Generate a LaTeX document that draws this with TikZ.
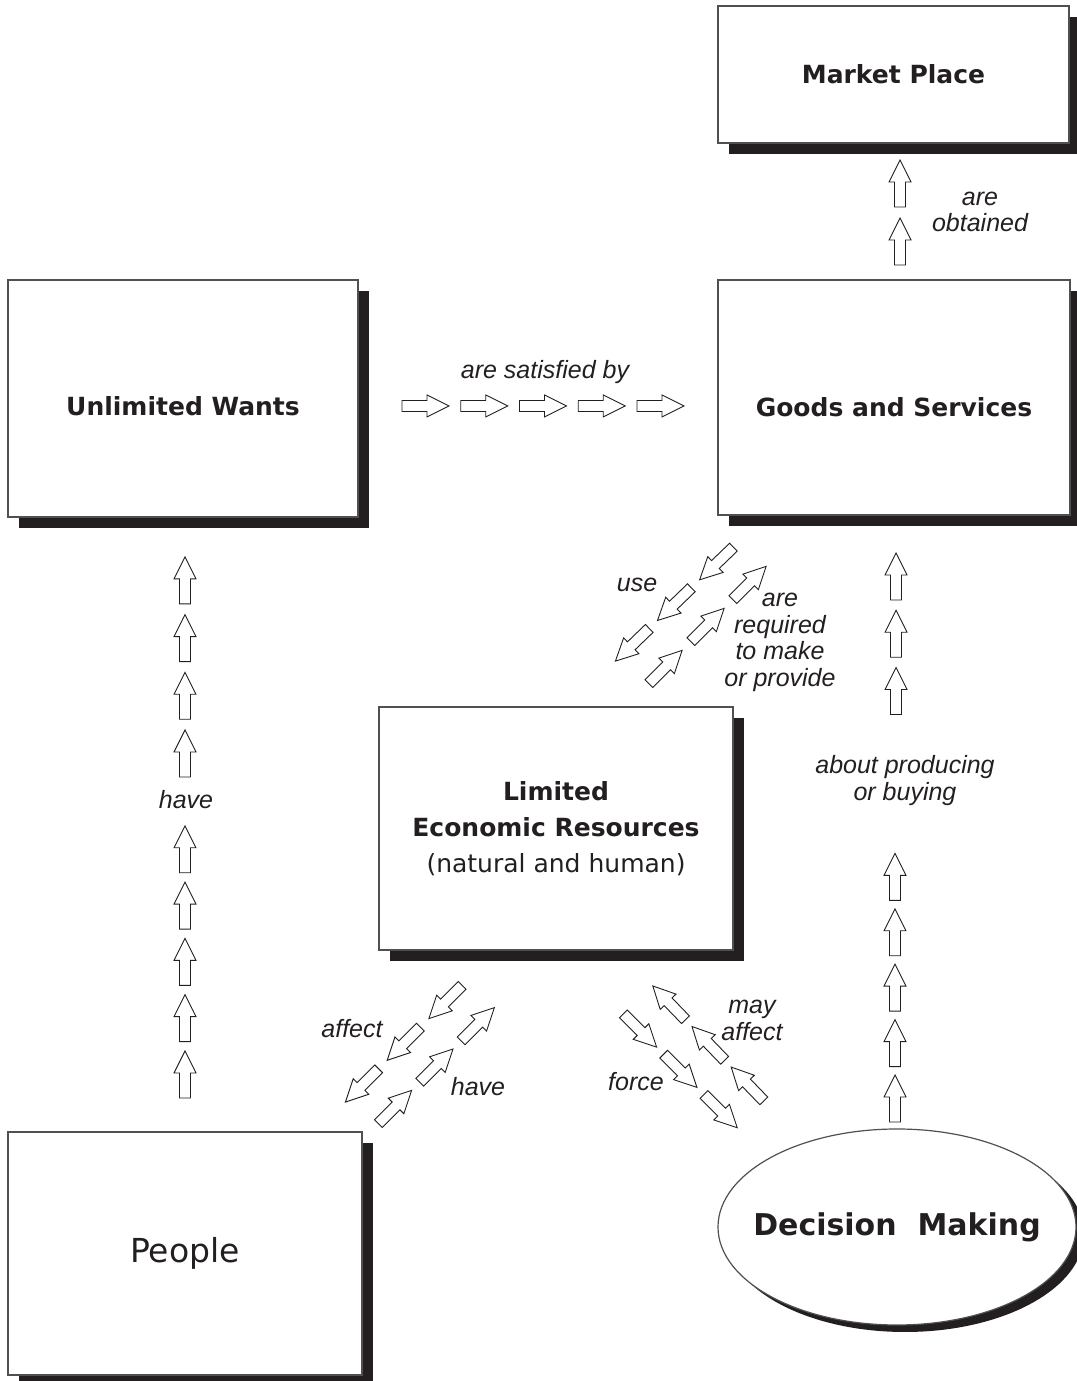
\documentclass[tikz,border=0pt]{standalone}
\usepackage{fontspec}
\setmainfont{Liberation Sans}
\newfontfamily\boxfont{DejaVu Sans}
\usetikzlibrary{shapes.geometric,shadows,calc}
\definecolor{colorline}  {RGB}{35 ,31 ,32 }
\definecolor{colorframe} {RGB}{80 ,80 ,80 }
\definecolor{colorshadow}{RGB}{35 ,31 ,32 }

\tikzset{
    arrowline/.style={draw=colorline,line width=0.9pt,fill=white,line join=miter},
    blockarrow/.pic={
        \draw[arrowline] (-23.5,-5.5) -- (1.5,-5.5) -- (1.5,-11) -- (23.5,0)
            -- (1.5,11) -- (1.5,5.5) -- (-23.5,5.5) -- cycle;
    },
}
% start, angle, count, pitch
\newcommand\arrowchain[4]{%
    \foreach \k in {1,...,#3}
        \pic[rotate=#2] at ($(#1)+(#2:{(\k-1)*#4})$) {blockarrow};
}

\begin{document}
\begin{tikzpicture}[
    x=1pt, y=1pt,
    frame/.style={draw=colorframe,line width=1.2pt,fill=white,inner sep=0pt,align=center,
        text=colorline,font={\boxfont\fontsize{25}{36}\selectfont\bfseries}},
    box/.style={frame,drop shadow={shadow xshift=11pt,shadow yshift=-11pt,fill=colorshadow,opacity=1}},
    oval/.style={frame,ellipse,drop shadow={shadow xshift=8pt,shadow yshift=-7pt,fill=colorshadow,opacity=1}},
    verb/.style={text=colorline,font={\itshape\fontsize{25}{26.5}\selectfont},align=center,inner sep=1pt},
]
    \useasboundingbox (0,0) rectangle (1076,1381);

    \node[box,minimum width=351pt,minimum height=137pt] (market) at (893.5,1306.5) {Market Place};
    \node[box,minimum width=350pt,minimum height=237pt,text height=34pt,text depth=0pt]
        (wants) at (183,982.5) {Unlimited Wants};
    \node[box,minimum width=352pt,minimum height=235pt,text height=38pt,text depth=0pt]
        (goods) at (894,983.5) {Goods and Services};
    \node[box,minimum width=354pt,minimum height=243pt] (resources) at (556,552.5)
        {Limited\\Economic Resources\\{\mdseries (natural and human)}};
    \node[box,minimum width=354pt,minimum height=243pt,font={\boxfont\fontsize{33}{36}\selectfont}]
        (people) at (185,127.5) {People};
    \node[oval,minimum width=358pt,minimum height=196pt,font={\boxfont\fontsize{30}{36}\selectfont\bfseries}]
        (decision) at (897,154) {\makebox[0pt]{Decision\ \ Making}};

    \node[verb] (obtained) at (980,1169) {are\\obtained};
    \node[verb] (satisfied) at (545,1009) {are satisfied by};
    \node[verb] (use) at (637,796) {use};
    \node[verb] (required) at (780,738.5) {are\\required\\to make\\or provide};
    \node[verb] (producing) at (905,600.5) {about producing\\or buying};
    \node[verb] (havewants) at (186,581) {have};
    \node[verb] (affect) at (352,352) {affect};
    \node[verb] (haveres) at (478,294) {have};
    \node[verb] (force) at (636,299) {force};
    \node[verb] (mayaffect) at (752,360.5) {may\\affect};

    \coordinate (peoplewants1) at (185,306.5);
    \coordinate (peoplewants2) at (185,627.5);
    \coordinate (wantsgoods) at (425.5,975);
    \coordinate (goodsmarket) at (900,1139.5);
    \coordinate (decisiongoods1) at (895,282.5);
    \coordinate (decisiongoods2) at (896,690);
    \coordinate (goodsres) at (716.5,817.5);
    \coordinate (resgoods) at (665.5,714);
    \coordinate (respeople) at (445.5,379);
    \coordinate (peopleres) at (395,274);
    \coordinate (resdecision) at (640,350.5);
    \coordinate (decisionres) at (747.5,297);

    \arrowchain{peoplewants1}{90}{5}{56.3}
    \arrowchain{peoplewants2}{90}{4}{57.7}
    \arrowchain{wantsgoods}{0}{5}{58.75}
    \arrowchain{goodsmarket}{90}{2}{58}
    \arrowchain{decisiongoods1}{90}{5}{55.4}
    \arrowchain{decisiongoods2}{90}{3}{57.25}
    \arrowchain{goodsres}{224}{3}{58.5}
    \arrowchain{resgoods}{45}{3}{59.4}
    \arrowchain{respeople}{225}{3}{59}
    \arrowchain{peopleres}{45}{3}{58.5}
    \arrowchain{resdecision}{315}{3}{57}
    \arrowchain{decisionres}{134}{3}{56.4}

\end{tikzpicture}
\end{document}
